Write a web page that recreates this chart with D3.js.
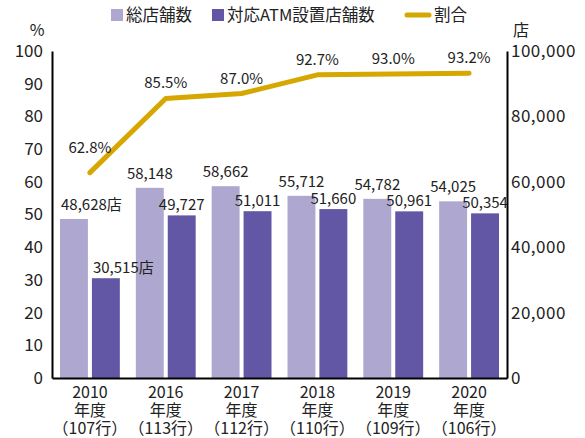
<!DOCTYPE html>
<html>
<head>
<meta charset="utf-8">
<script src="https://cdn.jsdelivr.net/npm/d3@7"></script>
<style>
  body { margin: 0; background: #fff; }
  svg text { font-family: "Noto Sans CJK JP", "Noto Sans", sans-serif; fill: #222; }
</style>
</head>
<body>
<div id="chart"></div>
<script>
// data
const years = ['2010', '2016', '2017', '2018', '2019', '2020'];
const banks = ['107', '113', '112', '110', '109', '106'];
const totalStores = [48628, 58148, 58662, 55712, 54782, 54025];
const atmStores = [30515, 49727, 51011, 51660, 50961, 50354];
const ratio = [62.8, 85.5, 87.0, 92.7, 93.0, 93.2];
const leftTicks = [0, 10, 20, 30, 40, 50, 60, 70, 80, 90, 100];
const rightTicks = [0, 20000, 40000, 60000, 80000, 100000];

const width = 585, height = 438;
const margin = {left: 52, right: 78, top: 51, bottom: 60};
const colors = {total: '#aea8d0', atm: '#6257a5', line: '#d6a700'};

const svg = d3.select('#chart').append('svg')
    .attr('width', width).attr('height', height);

const x = d3.scaleBand().domain(years)
    .range([margin.left, width - margin.right]);
const xInner = d3.scaleBand().domain(['total', 'atm'])
    .range([8, x.bandwidth() - 8]).paddingInner(0.125);
const yLeft = d3.scaleLinear().domain([0, 100]).range([height - margin.bottom, margin.top]);
const yRight = d3.scaleLinear().domain([0, 100000]).range([height - margin.bottom, margin.top]);

const rows = years.map((yr, i) => ({
    year: yr, bank: banks[i], total: totalStores[i], atm: atmStores[i], ratio: ratio[i], i: i
}));

// layers so labels sit on top of every bar
const barLayer = svg.append('g').attr('class', 'bars');
const lineLayer = svg.append('g').attr('class', 'line');
const labelLayer = svg.append('g').attr('class', 'labels');

const grp = barLayer.selectAll('g').data(rows).join('g')
    .attr('transform', d => `translate(${x(d.year)},0)`);

grp.append('rect')
    .attr('x', xInner('total'))
    .attr('y', d => yRight(d.total))
    .attr('width', xInner.bandwidth())
    .attr('height', d => yRight(0) - yRight(d.total))
    .attr('fill', colors.total);

grp.append('rect')
    .attr('x', xInner('atm'))
    .attr('y', d => yRight(d.atm))
    .attr('width', xInner.bandwidth())
    .attr('height', d => yRight(0) - yRight(d.atm))
    .attr('fill', colors.atm);

const fmt = d3.format(',');
const lgrp = labelLayer.selectAll('g').data(rows).join('g')
    .attr('transform', d => `translate(${x(d.year)},0)`);

// the first year carries the 店 unit and is left aligned to its bar
lgrp.append('text')
    .attr('x', d => d.i == 0 ? xInner('total') + 1 : xInner('total') + xInner.bandwidth() / 2)
    .attr('y', d => yRight(d.total) - 9)
    .attr('text-anchor', d => d.i == 0 ? 'start' : 'middle')
    .style('font-size', '15px')
    .text(d => fmt(d.total) + (d.i == 0 ? '店' : ''));

lgrp.append('text')
    .attr('x', d => d.i == 0 ? xInner('atm') + 1 : xInner('atm') + xInner.bandwidth() / 2)
    .attr('y', d => yRight(d.atm) - 5)
    .attr('text-anchor', d => d.i == 0 ? 'start' : 'middle')
    .style('font-size', '15px')
    .text(d => fmt(d.atm) + (d.i == 0 ? '店' : ''));

// ratio line
const cx = d => x(d.year) + x.bandwidth() / 2;
const line = d3.line().x(cx).y(d => yLeft(d.ratio));
lineLayer.append('path')
    .datum(rows)
    .attr('d', line)
    .attr('fill', 'none')
    .attr('stroke', colors.line)
    .attr('stroke-width', 5)
    .attr('stroke-linejoin', 'round')
    .attr('stroke-linecap', 'round');

labelLayer.append('g').selectAll('text').data(rows).join('text')
    .attr('x', cx)
    .attr('y', d => yLeft(d.ratio) - (d.i == 0 ? 20 : 10))
    .attr('text-anchor', 'middle')
    .style('font-size', '15px')
    .text(d => d.ratio.toFixed(1) + '%');

// axes
const leftAxis = svg.append('g')
    .attr('transform', `translate(${margin.left},0)`)
    .call(d3.axisLeft(yLeft).tickValues(leftTicks).tickSize(0).tickPadding(9));
const rightAxis = svg.append('g')
    .attr('transform', `translate(${width - margin.right},0)`)
    .call(d3.axisRight(yRight).tickValues(rightTicks).tickSize(0).tickPadding(4)
        .tickFormat(d3.format(',')));
const bottomAxis = svg.append('g')
    .attr('transform', `translate(0,${height - margin.bottom})`)
    .call(d3.axisBottom(x).tickSize(0).tickFormat(''));

[leftAxis, rightAxis, bottomAxis].forEach(a => {
    a.select('.domain').attr('stroke', '#000').attr('stroke-width', 2);
    a.selectAll('.tick text').style('font-size', '17px').attr('fill', '#222')
        .style('font-family', '"Noto Sans CJK JP", sans-serif');
});
rightAxis.selectAll('.tick text').style('letter-spacing', '0.5px');

// multi-line x labels, one text per category
const xlab = svg.append('g').selectAll('text').data(rows).join('text')
    .attr('transform', d => `translate(${cx(d)},${height - margin.bottom})`)
    .attr('text-anchor', 'middle')
    .style('font-size', '16px');
xlab.append('tspan').attr('x', 0).attr('y', 20).text(d => d.year);
xlab.append('tspan').attr('x', 0).attr('y', 38).text('年度');
xlab.append('tspan').attr('x', 0).attr('y', 56).text(d => '（' + d.bank + '行）');

// unit labels
svg.append('text').attr('x', 37).attr('y', 36).attr('text-anchor', 'middle')
    .style('font-size', '16px').text('%');
svg.append('text').attr('x', 521).attr('y', 36).attr('text-anchor', 'middle')
    .style('font-size', '16px').text('店');

// legend
const legendItems = [
    {label: '総店舗数', type: 'rect', color: colors.total, x: 111},
    {label: '対応ATM設置店舗数', type: 'rect', color: colors.atm, x: 212},
    {label: '割合', type: 'line', color: colors.line, x: 405}
];
const lg = svg.append('g').selectAll('g').data(legendItems).join('g')
    .attr('transform', d => `translate(${d.x},15)`);
lg.filter(d => d.type == 'rect').append('rect')
    .attr('x', 0).attr('y', -6).attr('width', 12).attr('height', 12)
    .attr('fill', d => d.color);
lg.filter(d => d.type == 'line').append('line')
    .attr('x1', 2).attr('x2', 24).attr('y1', 0).attr('y2', 0)
    .attr('stroke', d => d.color).attr('stroke-width', 5).attr('stroke-linecap', 'round');
lg.append('text')
    .attr('x', d => d.type == 'line' ? 29 : 15)
    .attr('y', 6)
    .style('font-size', '16.5px')
    .text(d => d.label);
</script>
</body>
</html>
